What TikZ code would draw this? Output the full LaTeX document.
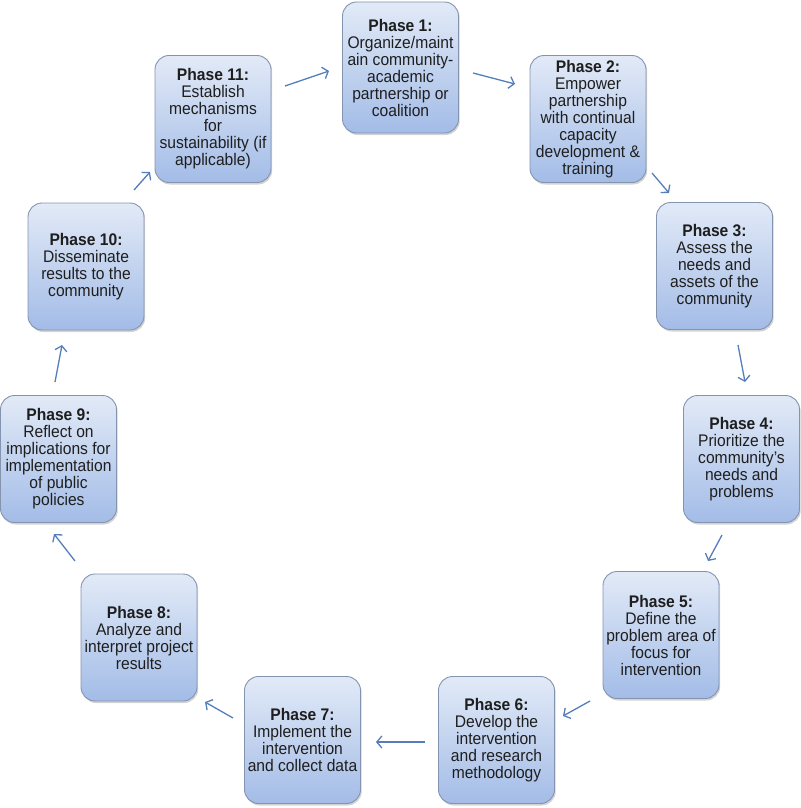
\documentclass[tikz,border=0pt]{standalone}
\usepackage{fontspec}
\setmainfont{Liberation Sans}[FakeStretch=0.93]
\usetikzlibrary{arrows.meta,shadows}
\definecolor{boxtop}{RGB}{226,234,247}
\definecolor{boxbot}{RGB}{163,188,231}
\definecolor{boxline}{RGB}{132,148,175}
\definecolor{arrowc}{RGB}{84,126,184}
\definecolor{txt}{RGB}{30,30,30}
\tikzset{
  phase/.style={rounded corners=14pt, minimum width=116pt, minimum height=127pt,
    inner sep=1pt, align=center, top color=boxtop, bottom color=boxbot,
    draw=boxline, line width=0.9pt, text=txt,
    font=\fontsize{16.8}{17}\selectfont,
    drop shadow={shadow xshift=1.2pt, shadow yshift=-2pt, opacity=0.35}},
  arr/.style={draw=arrowc, line width=1.3pt, -{Straight Barb[length=5pt,width=12pt,line width=1.3pt]}}
}
\begin{document}
\begin{tikzpicture}[x=1pt,y=-1pt]
\useasboundingbox (0,0) rectangle (800,808);
\node[phase, minimum height=131pt] (p1) at (400.5,67.5) {\textbf{Phase 1:}\\Organize/maint\\ain community-\\academic\\partnership or\\coalition};
\node[phase] (p2) at (588,119) {\textbf{Phase 2:}\\Empower\\partnership\\with continual\\capacity\\development \&\\training};
\node[phase] (p3) at (714.5,266) {\textbf{Phase 3:}\\Assess the\\needs and\\assets of the\\community};
\node[phase] (p4) at (741.5,459) {\textbf{Phase 4:}\\Prioritize the\\community's\\needs and\\problems};
\node[phase] (p5) at (661,635) {\textbf{Phase 5:}\\Define the\\problem area of\\focus for\\intervention};
\node[phase] (p6) at (496.5,740) {\textbf{Phase 6:}\\Develop the\\intervention\\and research\\methodology};
\node[phase] (p7) at (302.5,740) {\textbf{Phase 7:}\\Implement the\\intervention\\and collect data};
\node[phase] (p8) at (139,637.5) {\textbf{Phase 8:}\\Analyze and\\interpret project\\results};
\node[phase] (p9) at (58.5,459) {\textbf{Phase 9:}\\Reflect on\\implications for\\implementation\\of public\\policies};
\node[phase] (p10) at (86,266.5) {\textbf{Phase 10:}\\Disseminate\\results to the\\community};
\node[phase] (p11) at (213,119) {\textbf{Phase 11:}\\Establish\\mechanisms\\for\\sustainability (if\\applicable)};
% arrow end points
\coordinate (a1s) at (285,86);  \coordinate (a1e) at (329,71);
\coordinate (a2s) at (473,73);  \coordinate (a2e) at (515,84);
\coordinate (a3s) at (652,173); \coordinate (a3e) at (669,193);
\coordinate (a4s) at (738,345); \coordinate (a4e) at (745,382);
\coordinate (a5s) at (722,535); \coordinate (a5e) at (708,561);
\coordinate (a6s) at (590,701); \coordinate (a6e) at (563,716);
\coordinate (a7s) at (425,742); \coordinate (a7e) at (376,742);
\coordinate (a8s) at (233,718); \coordinate (a8e) at (205,702);
\coordinate (a9s) at (75,561);  \coordinate (a9e) at (54,534);
\coordinate (a10s) at (55,382); \coordinate (a10e) at (62,345);
\coordinate (a11s) at (134,190); \coordinate (a11e) at (150,172);
\draw[arr] (a1s) -- (a1e);
\draw[arr] (a2s) -- (a2e);
\draw[arr] (a3s) -- (a3e);
\draw[arr] (a4s) -- (a4e);
\draw[arr] (a5s) -- (a5e);
\draw[arr] (a6s) -- (a6e);
\draw[arr] (a7s) -- (a7e);
\draw[arr] (a8s) -- (a8e);
\draw[arr] (a9s) -- (a9e);
\draw[arr] (a10s) -- (a10e);
\draw[arr] (a11s) -- (a11e);
\end{tikzpicture}
\end{document}
